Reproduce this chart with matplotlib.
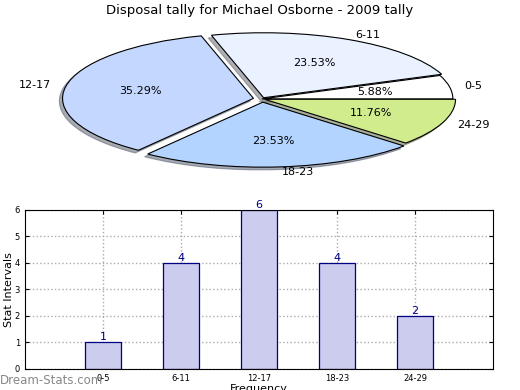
import matplotlib
matplotlib.use("Agg")
import matplotlib.pyplot as plt

categories = ["0-5", "6-11", "12-17", "18-23", "24-29"]
counts = [1, 4, 6, 4, 2]
pie_colors = ["#ffffff", "#eaf1ff", "#c4d8ff", "#b3d4ff", "#d0ec8c"]
explode = [0.0, 0.02, 0.045, 0.05, 0.015]
title = "Disposal tally for Michael Osborne - 2009 tally"

fig = plt.figure(figsize=(5.2, 3.9), dpi=100)

# pie (squashed ellipse)
pax = fig.add_axes([0.0447, 0.538, 0.918, 0.4167])
wedges, texts, autotexts = pax.pie(
    counts, labels=categories, colors=pie_colors, explode=explode,
    autopct="%.2f%%", startangle=0,
    shadow=dict(ox=-0.012, oy=-0.03, shade=0.6),
    labeldistance=1.08,
    wedgeprops=dict(edgecolor="black", linewidth=0.8),
    textprops=dict(fontsize=8))
pax.set_aspect("auto")
pax.set_xlim(-1.25, 1.25)
pax.set_ylim(-1.25, 1.25)
pax.axis("off")

fig.text(0.5, 0.973, title, ha="center", va="center", fontsize=9.5)

# bar chart
bax = fig.add_axes([0.048, 0.054, 0.9, 0.408])
x = list(range(1, len(categories) + 1))
bars = bax.bar(x, counts, width=0.46, color="#ccccee", edgecolor="#000080",
               linewidth=0.9, zorder=2)
for xi, v in zip(x, counts):
    bax.text(xi, v, str(v), ha="center", va="bottom", color="#000080", fontsize=8)
bax.set_xlim(0, 6)
bax.set_ylim(0, 6)
bax.set_xticks(x)
bax.set_xticklabels(categories)
bax.set_yticks(range(0, 7))
bax.tick_params(labelsize=6, direction="in", right=True, top=True, length=3)
bax.grid(True, linestyle=":", color="#aaaaaa", linewidth=1)
bax.set_axisbelow(True)
bax.set_ylabel("Stat Intervals", fontsize=8, labelpad=0.5)
bax.set_xlabel("Frequency", fontsize=8, labelpad=1)

fig.text(0.0, 0.025, "Dream-Stats.com", ha="left", va="center",
         fontsize=8.5, color="#888888")

fig.savefig("out.png", dpi=100)
